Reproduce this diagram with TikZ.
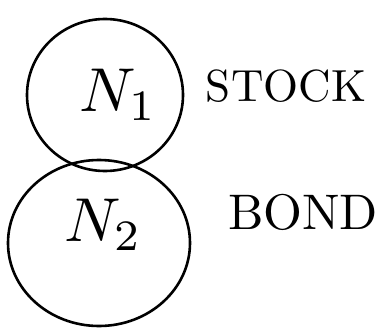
\documentclass[tikz,border=0pt]{standalone}
\usetikzlibrary{shapes.geometric}
\tikzset{ring/.style={draw,ellipse,line width=2.6pt,inner sep=0pt},
  big/.style={scale=6.2}}

\begin{document}
\begin{tikzpicture}[x=1pt,y=-1pt]
\useasboundingbox (0,0) rectangle (390,332);
\node[ring,minimum width=156,minimum height=152] (n1) at (105,95) {};
\node[ring,minimum width=182,minimum height=166] (n2) at (99,243) {};
\node[big] (n1t) at (118,95) {$N_1$};
\node[big] (n2t) at (103,225) {$N_2$};
\node[scale=4.5] (stock) at (286,86) {STOCK};
\node[scale=5] (bond) at (303,212) {BOND};
\end{tikzpicture}
\end{document}
